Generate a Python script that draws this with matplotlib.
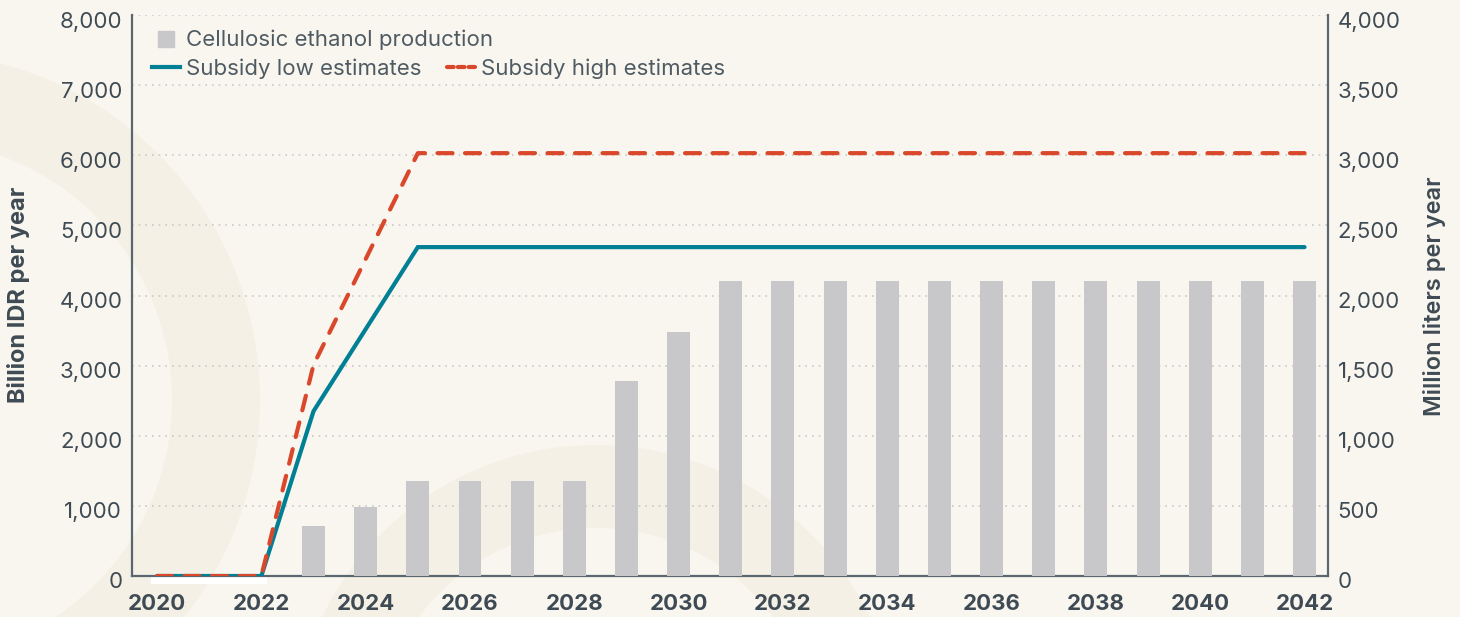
import numpy as np
import matplotlib
matplotlib.use("Agg")
import matplotlib.pyplot as plt
import matplotlib.transforms as mtransforms
from matplotlib.patches import Wedge, Rectangle
from matplotlib.lines import Line2D
from matplotlib.ticker import FuncFormatter

plt.rcParams['font.family'] = ['Inter', 'DejaVu Sans']

# data
years = list(range(2020, 2043))
subsidy_low = [0, 0, 0, 2350, 3520, 4690] + [4690] * 17
subsidy_high = [0, 0, 0, 3010, 4520, 6030] + [6030] * 17
prod_years = list(range(2023, 2043))
production = [355, 495, 680, 680, 680, 680, 1390, 1740] + [2100] * 12

bg = '#f9f6ef'
ring = '#f4f0e5'
teal = '#007f95'
red = '#d9482b'
bar_c = '#c8c8cb'
spine_c = '#5b6770'
text_c = '#3f4b54'

fig = plt.figure(figsize=(14.6, 6.17), dpi=100, facecolor=bg)

# decorative rings in the background (pixel coords, origin top-left)
W, H = 1460, 617
def px_ring(cx, cy, r_out, r_in):
    w = Wedge((cx / W, (H - cy) / W), r_out / W, 0, 360, width=(r_out - r_in) / W,
              facecolor=ring, edgecolor='none', zorder=-10)
    # keep circles round in a non-square figure
    w.set_transform(mtransforms.Affine2D().scale(W, W))
    fig.patches.append(w)

px_ring(-88, 400, 348, 260)
px_ring(596, 749, 304, 221)

ax2 = fig.add_axes([132 / W, 1 - 576 / H, (1328 - 132) / W, (576 - 15) / H])
ax = ax2.twinx()
ax.yaxis.tick_left()
ax.yaxis.set_label_position('left')
ax2.yaxis.tick_right()
ax.set_zorder(ax2.get_zorder() + 1)
ax.patch.set_visible(False)
ax2.patch.set_visible(False)

# bars on the right axis
ax2.bar(prod_years, production, width=0.44, color=bar_c, zorder=3)
ax2.set_ylim(0, 4000)
ax2.set_yticks(range(0, 4001, 500))
ax2.yaxis.grid(True, linestyle=(0, (1, 3)), color='#c9c9c9', linewidth=1.2, zorder=0)
ax2.set_axisbelow(True)

# subsidy lines on the left axis
ax.plot(years, subsidy_low, color=teal, lw=3, solid_capstyle='round',
        solid_joinstyle='miter', zorder=4)
ax.plot(years, subsidy_high, color=red, lw=3, linestyle=(0, (3.6, 3.0)),
        dash_capstyle='round', zorder=5)
ax.set_ylim(0, 8000)
ax.set_yticks(range(0, 8001, 1000))
ax2.set_xlim(2019.52, 2042.45)
ax2.set_xticks(range(2020, 2043, 2))

fmt = FuncFormatter(lambda v, p: f'{int(v):,}')
ax.yaxis.set_major_formatter(fmt)
ax2.yaxis.set_major_formatter(fmt)

for a in (ax, ax2):
    for s in a.spines.values():
        s.set_visible(False)
    a.tick_params(length=0)
for k in ('left', 'right', 'bottom'):
    ax2.spines[k].set_visible(True)
    ax2.spines[k].set_color(spine_c)
    ax2.spines[k].set_linewidth(1.6)

ax.tick_params(axis='y', labelsize=16, labelcolor=text_c, pad=7)
ax2.tick_params(axis='y', labelsize=16, labelcolor=text_c, pad=7)
ax2.tick_params(axis='x', labelsize=16, labelcolor=text_c, pad=13, labelbottom=True)
for lab in ax2.get_xticklabels():
    lab.set_fontweight('bold')

shift = mtransforms.ScaledTranslation(0, -0.045, fig.dpi_scale_trans)
for lab in ax.get_yticklabels() + ax2.get_yticklabels():
    lab.set_transform(lab.get_transform() + shift)

# white strip under the axis seen in the original
ax2.add_patch(Rectangle((2019.88, -0.015), 2.22, 0.013, transform=ax2.get_xaxis_transform(),
                        facecolor='white', edgecolor='none', clip_on=False, zorder=1))

fig.text(19 / W, 1 - 295 / H, 'Billion IDR per year', rotation=90, ha='center', va='center',
         fontsize=17, fontweight='bold', color=text_c)
fig.text(1435 / W, 1 - 296 / H, 'Million liters per year', rotation=90, ha='center',
         va='center', fontsize=17, fontweight='semibold', color=text_c)

# legend: one row for the bars, one row for the two lines
leg_kw = dict(frameon=False, fontsize=16, handlelength=1.26, handletextpad=0.28,
              borderpad=0, borderaxespad=0, loc='center left', labelcolor='#4f5b63')
leg1 = ax.legend([Line2D([], [], marker='s', markersize=11, color=bar_c, linestyle='none')],
                 ['Cellulosic ethanol production'], bbox_to_anchor=(0.0167, 0.955), **leg_kw)
ax.add_artist(leg1)
ax.legend([Line2D([], [], color=teal, lw=3),
           Line2D([], [], color=red, lw=3, linestyle=(0, (1.6, 1.0)), dash_capstyle='round')],
          ['Subsidy low estimates', 'Subsidy high estimates'], ncol=2, columnspacing=1.15,
          bbox_to_anchor=(0.0167, 0.904), **leg_kw)

fig.savefig('out.png', dpi=100, facecolor=bg)
